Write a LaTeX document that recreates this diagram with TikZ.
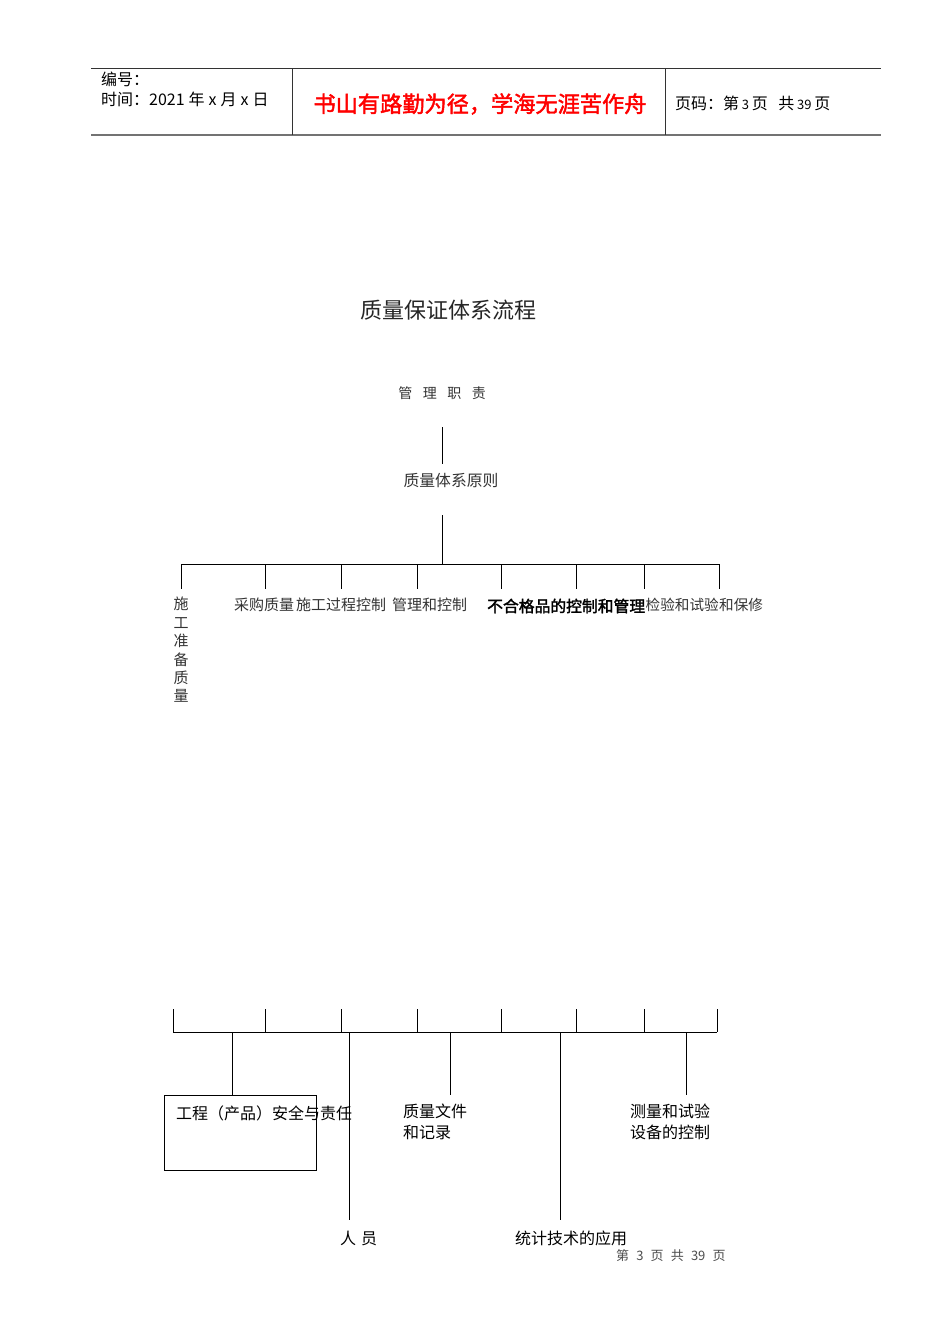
\documentclass[tikz,border=0pt]{standalone}
\usepackage{fontspec}
\setmainfont{Liberation Serif}
\newfontfamily\cjk{Noto Sans CJK SC}
\newfontfamily\cjkbold[FakeBold=2]{Noto Sans CJK SC}
\begin{document}
\begin{tikzpicture}[x=1pt,y=-1pt,
  every node/.style={inner sep=0pt},
  rule/.style={line width=0.9pt, black},
  hdr/.style={anchor=west, font=\cjk\fontsize{16}{20}\selectfont},
  thin/.style={anchor=west, text=black!80, font=\cjk\fontsize{15}{18}\selectfont},
  box/.style={anchor=west, font=\cjk\fontsize{16}{21}\selectfont},
]
\useasboundingbox[fill=white] (0,0) rectangle (950,1344);

% ---------- header ----------
\draw[line width=0.8pt, black!80] (91,68) -- (881,68);
\draw[line width=1.4pt, black!55] (91,135) -- (881,135);
\draw[line width=0.8pt, black!80] (292,68) -- (292,135);
\draw[line width=0.8pt, black!80] (665,68) -- (665,135);
\node[hdr] (num) at (101,79) {编号：};
\node[hdr] (date) at (101,99) {时间：2021\hspace{0.25em}年\hspace{0.25em}x\hspace{0.25em}月\hspace{0.25em}x\hspace{0.25em}日};
\node[anchor=center, text=red, font=\cjkbold\fontsize{22.2}{26}\selectfont] (motto) at (480,104) {书山有路勤为径，学海无涯苦作舟};
\node[hdr] (page) at (675,103) {页码：第\,{\fontsize{13}{14}\selectfont 3}\,页\ \ \ 共\,{\fontsize{13}{14}\selectfont 39}\,页};

% ---------- title ----------
\node[anchor=center, text=black!85, font=\cjk\fontsize{22}{25}\selectfont] (title) at (448,310) {质量保证体系流程};

% ---------- top tree ----------
\node[anchor=center, text=black!80, font=\cjk\fontsize{14}{18}\selectfont] (mgr) at (442,393) {管\hspace{0.75em}理\hspace{0.75em}职\hspace{0.75em}责};
\node[anchor=center, text=black!80, font=\cjk\fontsize{15.8}{18}\selectfont] (prin) at (451,481) {质量体系原则};
\coordinate (m1) at (442,427);
\coordinate (m2) at (442,464);
\draw[rule] (m1) -- (m2);
\coordinate (p1) at (442,515);
\coordinate (p2) at (442,564);
\draw[rule] (p1) -- (p2);
\coordinate (busL) at (181,564);
\coordinate (busR) at (719,564);
\draw[rule] (busL) -- (busR);
\foreach \i/\x in {1/181,2/265,3/341,4/417,5/501,6/576,7/644,8/719}{
  \coordinate (t\i) at (\x,564);
  \coordinate (u\i) at (\x,589);
  \draw[rule] (t\i) -- (u\i);
}

% texts of top row
\node[anchor=north, align=center, text=black!80, font=\cjk\fontsize{15}{18.4}\selectfont] (prep) at (181,597) {施\\工\\准\\备\\质\\量};
\node[thin] (buy) at (234,605) {采购质量};
\node[thin] (proc) at (296,605) {施工过程控制};
\node[thin] (ctrl) at (392,605) {管理和控制};
\node[anchor=west, text=black, font=\cjkbold\fontsize{15.8}{18}\selectfont] (ncr) at (487,606) {不合格品的控制和管理};
\node[thin, font=\cjk\fontsize{14.6}{18}\selectfont] (insp) at (645.5,605) {检验和试验};
\node[thin, font=\cjk\fontsize{14.6}{18}\selectfont] (serv) at (719,605) {和保修};

% ---------- bottom tree ----------
\foreach \i/\x in {1/173,2/265,3/341,4/417,5/501,6/576,7/644,8/717}{
  \coordinate (v\i) at (\x,1009);
  \coordinate (w\i) at (\x,1032);
  \draw[rule] (v\i) -- (w\i);
}
\draw[rule] (w1) -- (w8);

\node[draw, line width=0.9pt, minimum width=152pt, minimum height=75pt, anchor=north west] (safety) at (164,1095) {};
\node[box] (safetyT) at (176,1113) {工程（产品）安全与责任};
\coordinate (s0) at (232,1032);
\draw[rule] (s0) -- (safety.north -| s0);

\coordinate (r0) at (349,1032);
\coordinate (r1) at (349,1220);
\draw[rule] (r0) -- (r1);
\node[box] (staff) at (340,1238) {人\hspace{0.3em}员};

\coordinate (d0) at (450,1032);
\coordinate (d1) at (450,1095);
\draw[rule] (d0) -- (d1);
\node[box, align=left, anchor=north west] (docs) at (403,1104) {质量文件\\和记录};

\coordinate (st0) at (560,1032);
\coordinate (st1) at (560,1220);
\draw[rule] (st0) -- (st1);
\node[box] (stat) at (515,1238) {统计技术的应用};

\coordinate (e0) at (686,1032);
\coordinate (e1) at (686,1095);
\draw[rule] (e0) -- (e1);
\node[box, align=left, anchor=north west] (equip) at (630,1104) {测量和试验\\设备的控制};

% ---------- footer ----------
\node[anchor=west, text=black!70, font=\cjk\fontsize{13}{15}\selectfont] (foot) at (616,1256) {第\hspace{0.55em}3\hspace{0.55em}页\hspace{0.55em}共\hspace{0.55em}39\hspace{0.55em}页};
\end{tikzpicture}
\end{document}
